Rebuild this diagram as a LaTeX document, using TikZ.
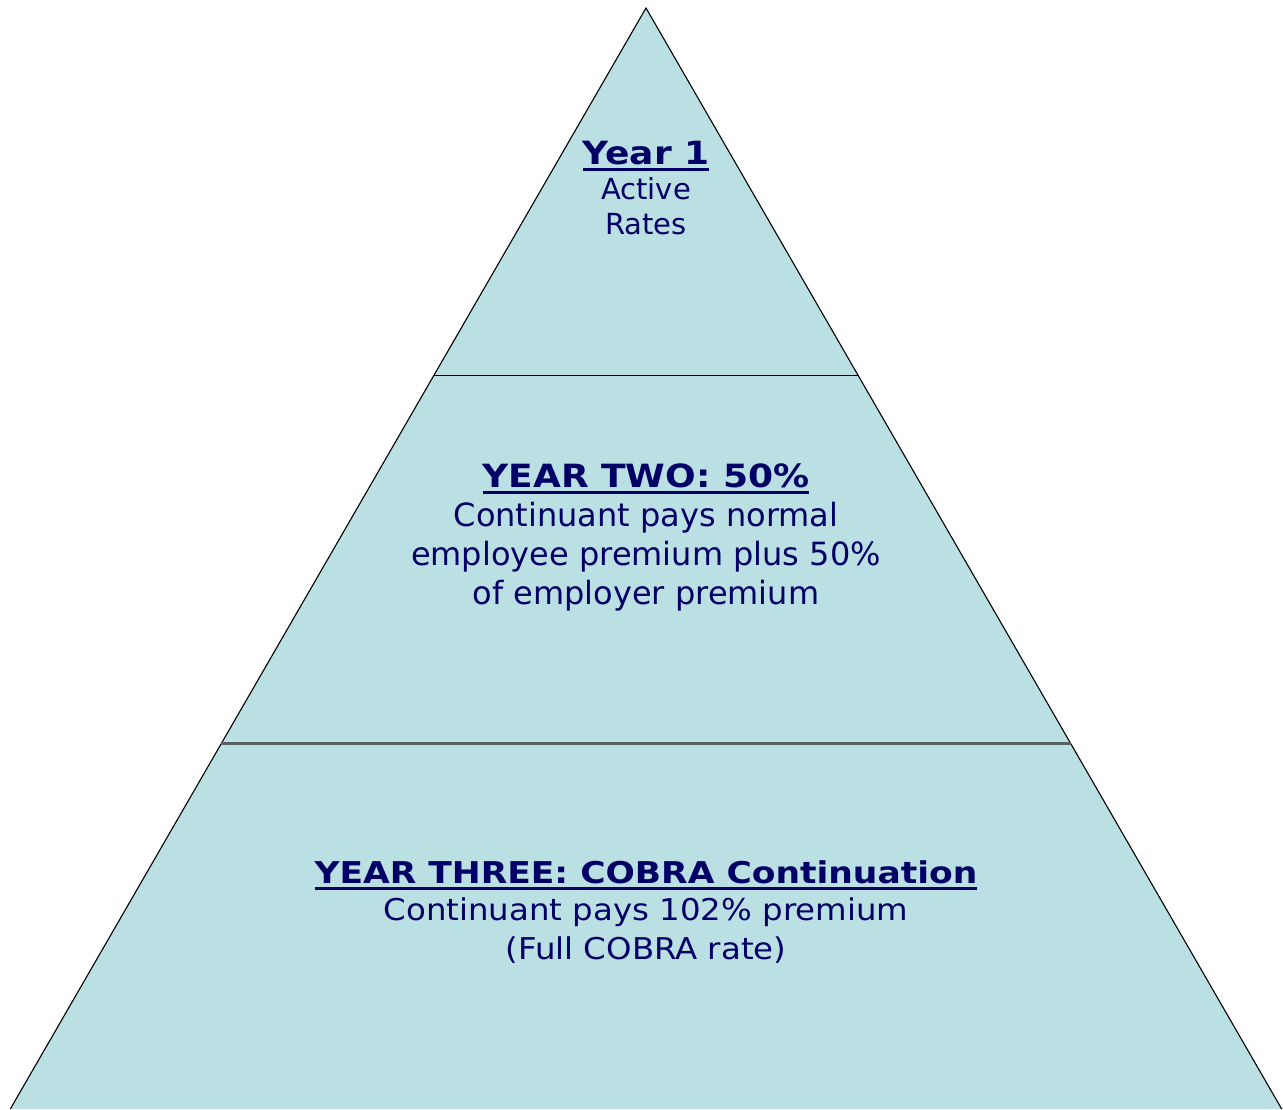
\documentclass[tikz,border=0pt]{standalone}
\usepackage{fontspec}
\setmainfont{DejaVu Sans}[BoldFeatures={FakeStretch=1.125}]
\newfontfamily\slimfont{DejaVu Sans}[FakeStretch=1.08,BoldFeatures={FakeStretch=1.15}]
\usetikzlibrary{positioning}
\definecolor{pyr}{HTML}{BBE0E3}
\definecolor{nav}{HTML}{000066}
\definecolor{sep}{HTML}{566262}
% bold heading with a thick rule under it
\newcommand{\ulhead}[1]{\setbox0\hbox{\bfseries #1}\rlap{\rule[-6.5pt]{\wd0}{3pt}}\box0}

\begin{document}
\begin{tikzpicture}[x=1pt,y=-1pt,
    side/.style={black,line width=1.1pt},
    lbl/.style={anchor=base,inner sep=0pt,text=nav,align=center}]
  \useasboundingbox (0,0) rectangle (1283,1109);
  % pyramid corners and band edges
  \coordinate (top) at (646,8);
  \coordinate (bl) at (10.3,1109);
  \coordinate (br) at (1281.7,1109);
  \coordinate (al) at (433.5,375.5);
  \coordinate (ar) at (858.5,375.5);
  \coordinate (cl) at (221,743.5);
  \coordinate (cr) at (1071,743.5);
  \fill[pyr] (top) -- (bl) -- (br) -- cycle;
  \draw[side] (bl) -- (top) -- (br);
  \draw[black,line width=1.5pt] (al) -- (ar);
  \draw[sep,line width=2.5pt] (cl) -- (cr);

  % year 1 (base = last line)
  \node[lbl,font=\fontsize{32}{35}\selectfont] (y1head) at (646,164) {\ulhead{Year 1}};
  \node[lbl,font=\fontsize{29}{35}\selectfont] (y1text) at (646,234) {Active\\Rates};
  % year 2
  \node[lbl,font=\fontsize{32}{39}\selectfont] (y2head) at (646,487) {\ulhead{YEAR TWO: 50\%}};
  \node[lbl,font=\fontsize{32}{39}\selectfont] (y2text) at (646,604)
    {Continuant pays normal\\employee premium plus 50\%\\of employer premium};
  % year 3
  \node[lbl,font=\slimfont\fontsize{30}{39}\selectfont] (y3head) at (646,883) {\ulhead{YEAR THREE: COBRA Continuation}};
  \node[lbl,font=\slimfont\fontsize{30}{39}\selectfont] (y3text) at (646,959)
    {Continuant pays 102\% premium\\(Full COBRA rate)};
\end{tikzpicture}
\end{document}
